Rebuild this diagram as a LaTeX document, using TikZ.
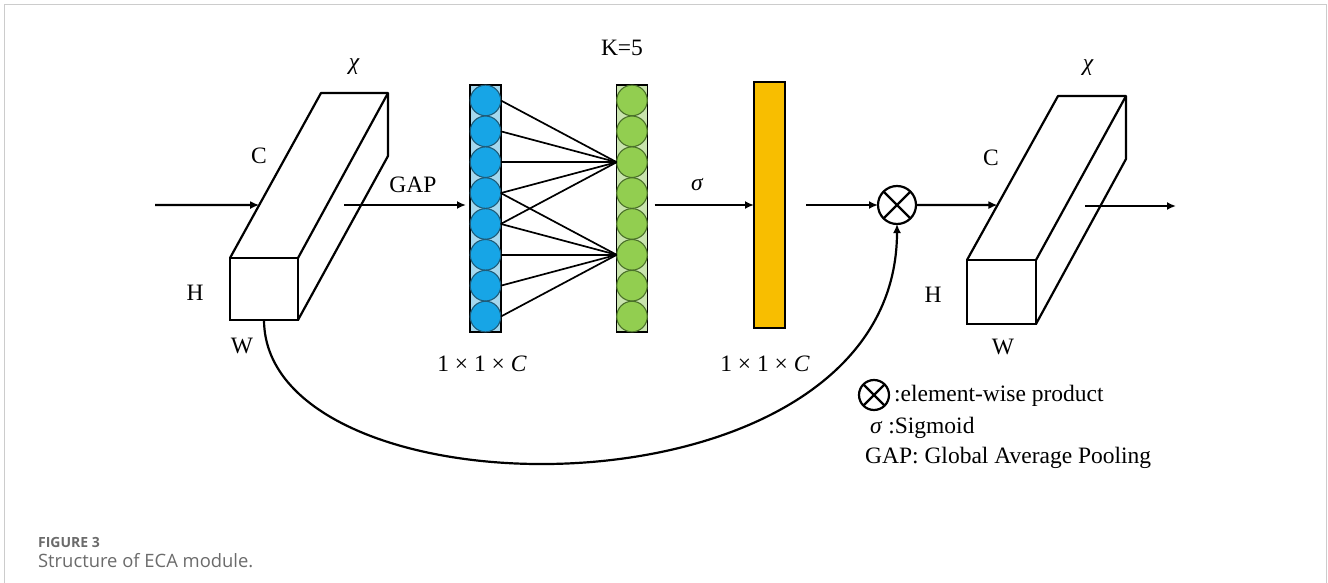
\documentclass[tikz,border=0pt]{standalone}
\usepackage{fontspec}
\setmainfont{Liberation Serif}
\newfontfamily\capfont{Open Sans}
\usetikzlibrary{arrows.meta,calc}
\definecolor{framegray}{HTML}{CCCCCC}
\definecolor{bluefill}{HTML}{A6D8EE}
\definecolor{blueball}{HTML}{17A5E6}
\definecolor{bluedark}{HTML}{1F5B78}
\definecolor{greenfill}{HTML}{C9E4AE}
\definecolor{greenball}{HTML}{92CE50}
\definecolor{greendark}{HTML}{4A7029}
\definecolor{orangefill}{HTML}{F8BE00}
\definecolor{capgray}{HTML}{6B6B6B}
\tikzset{
  face/.style={draw, fill=white, minimum width=68pt, minimum height=62pt, outer sep=0pt, inner sep=0pt, anchor=north west},
  col/.style={draw, line width=1.6pt, minimum width=31pt, minimum height=247pt, outer sep=0pt, inner sep=0pt},
  bcirc/.style={circle, draw=bluedark, fill=blueball, line width=1.1pt, minimum size=30.6pt, inner sep=0pt, outer sep=0pt},
  gcirc/.style={circle, draw=greendark, fill=greenball, line width=1.1pt, minimum size=30.6pt, inner sep=0pt, outer sep=0pt},
  arr/.style={-{Latex[length=9pt,width=8pt]}},
  link/.style={line width=1.7pt},
  lbl/.style={font=\fontsize{23.5}{27}\selectfont, inner sep=0pt},
  otimes/.style={circle, draw, minimum size=#1, inner sep=0pt, outer sep=0pt},
}
\begin{document}
\begin{tikzpicture}[x=1pt, y=-1pt, line width=2.2pt]
\path[use as bounding box] (0,0) rectangle (1328,583);
% frame
\draw[framegray, line width=1.5pt] (4.5,583) -- (4.5,4.5) -- (1326.5,4.5) -- (1326.5,583);

% left cuboid
\node[face] (f1) at (230,258) {};
\draw[line join=round] (f1.north west) -- ++(91,-165) coordinate (b1tl) -- ++(67,0) coordinate (b1tr) -- ++(0,63) coordinate (b1br) -- (f1.south east);
\draw (b1tr) -- (f1.north east);
\node[lbl] (chi1) at (354,67) {\itshape χ};
\node[lbl] (c1) at (259,156) {C};
\node[lbl] (h1) at (195,293) {H};
\node[lbl] (w1) at (242,346) {W};

% input arrow
\coordinate (in1) at (155,205);
\coordinate (in1e) at ($(f1.north west)!0.321!(b1tl)$);
\draw[arr] (in1) -- (in1e);

% blue column
\node[col, fill=bluefill] (bcol) at (485.5,208.5) {};
\foreach \i in {1,...,8} {
  \node[bcirc] (b\i) at (485.5,{85+15.44+(\i-1)*30.875}) {};
}
% green column
\node[col, fill=greenfill] (gcol) at (632,208.5) {};
\foreach \i in {1,...,8} {
  \node[gcirc] (g\i) at (632,{85+15.44+(\i-1)*30.875}) {};
}
\foreach \i in {1,...,5} { \draw[link] (b\i.east) -- (g3.west); }
\foreach \i in {4,...,8} { \draw[link] (b\i.east) -- (g6.west); }
\node[lbl] (k5) at (622,48) {K=5};

% GAP arrow
\coordinate (gap0) at (344,205);
\draw[arr] (gap0) -- ($(bcol.west)+(-4,-3.5)$);
\node[lbl] (gapl) at (413,185) {GAP};
\node[lbl] (dim1) at (482,364) {1 × 1 × \textit{C}};

% orange
\node[col, line width=1.8pt, fill=orangefill, minimum height=246pt] (ocol) at (769.5,205) {};
\draw[arr] ($(gcol.east)+(7,-3.5)$) -- (ocol.west);
\node[lbl] (sig) at (697,185) {\itshape σ};
\node[lbl] (dim2) at (765,364) {1 × 1 × \textit{C}};

% otimes
\node[otimes=38pt] (ot) at (897,205) {};
\draw (ot.north west) -- (ot.south east) (ot.north east) -- (ot.south west);
\coordinate (o0) at (806,205);
\draw[arr] (o0) -- (ot.west);

% right cuboid
\node[face, minimum width=69pt, minimum height=64pt] (f2) at (967,260) {};
\draw[line join=round] (f2.north west) -- ++(91,-164) coordinate (b2tl) -- ++(68,0) coordinate (b2tr) -- ++(0,63) coordinate (b2br) -- (f2.south east);
\draw (b2tr) -- (f2.north east);
\coordinate (in2e) at ($(f2.north west)!0.335!(b2tl)$);
\draw[arr] (ot.east) -- (in2e);
\coordinate (out0) at (1085,206);
\coordinate (out1) at (1176,206);
\draw[arr] (out0) -- (out1);
\node[lbl] (chi2) at (1088,68) {\itshape χ};
\node[lbl] (c2) at (991,158) {C};
\node[lbl] (h2) at (933,295) {H};
\node[lbl] (w2) at (1003,347) {W};

% skip connection
\draw[arr] (f1.south) .. controls (265,522) and (897,528) .. (ot.south);

% legend
\node[otimes=30pt] (lot) at (874,395) {};
\draw (lot.north west) -- (lot.south east) (lot.north east) -- (lot.south west);
\node[lbl, anchor=west] (l1) at (893,396) {:element-wise product};
\node[lbl, anchor=west] (l2) at (869,428) {\textit{σ} :Sigmoid};
\node[lbl, anchor=west] (l3) at (864,458) {GAP: Global Average Pooling};

% caption
\node[anchor=west, inner sep=0pt, text=capgray, font=\capfont\fontsize{14}{16}\selectfont\bfseries] (cap1) at (37,542) {FIGURE 3};
\node[anchor=west, inner sep=0pt, text=capgray, font=\capfont\fontsize{18.4}{21}\selectfont] (cap2) at (37,561) {Structure of ECA module.};
\end{tikzpicture}
\end{document}
